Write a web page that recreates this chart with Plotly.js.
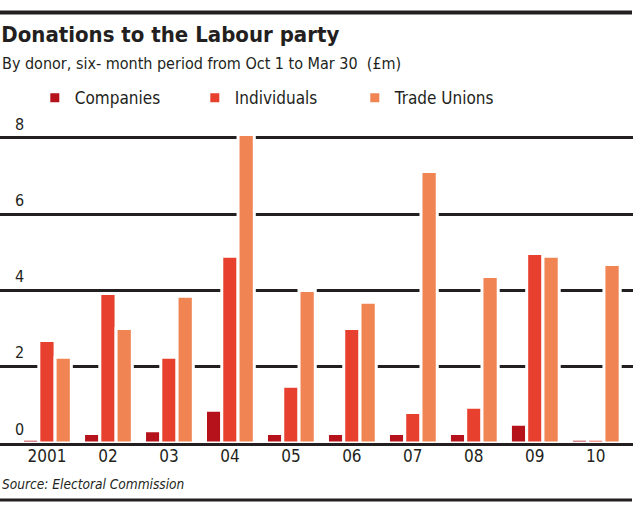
<!DOCTYPE html>
<html>
<head>
<meta charset="utf-8">
<script src="https://cdn.plot.ly/plotly-3.0.1.min.js"></script>
<style>html,body{margin:0;padding:0;background:#fff;}#chart{width:640px;height:512px;}</style>
</head>
<body>
<div id="chart"></div>
<script>
const categories = ['2001','02','03','04','05','06','07','08','09','10'];
const companies = [0.1,0.25,0.32,0.86,0.25,0.25,0.25,0.25,0.49,0.1];
const individuals = [2.69,3.92,2.25,4.9,1.49,3.0,0.8,0.94,4.97,0.1];
const tradeUnions = [2.25,3.0,3.85,8.09,4.0,3.69,7.12,4.37,4.9,4.68];
const yTicks = [0,2,4,6,8];

const FONT = '"DejaVu Sans Condensed", "Liberation Sans Narrow", sans-serif';
const INK = '#231f20';
function f(size, extra) { return Object.assign({family: FONT, size: size, color: INK}, extra || {}); }

function barTrace(name, values, color) {
  return {
    type: 'bar', name: name, x: categories, y: values,
    marker: {color: color, line: {color: '#ffffff', width: 3}},
    hoverinfo: 'skip'
  };
}

const data = [
  barTrace('Companies', companies, '#b5121b'),
  barTrace('Individuals', individuals, '#e8402f'),
  barTrace('Trade Unions', tradeUnions, '#f08453')
];

const layout = {
  width: 640, height: 512,
  margin: {l: 0, r: 7, t: 132, b: 69, pad: 0},
  paper_bgcolor: '#ffffff', plot_bgcolor: '#ffffff',
  font: f(15),
  barmode: 'group', bargap: 0.2, bargroupgap: 0,
  title: {
    text: 'Donations to the Labour party',
    font: f(22, {weight: 'bold'}),
    x: 0.002, xanchor: 'left', xref: 'container',
    y: 1 - 34/512, yanchor: 'middle', yref: 'container'
  },
  showlegend: true,
  legend: {
    orientation: 'h', x: 0.055, xanchor: 'left', y: 1.109, yanchor: 'middle',
    font: f(17),
    bgcolor: 'rgba(0,0,0,0)', entrywidth: 115, traceorder: 'normal'
  },
  xaxis: {
    type: 'category', range: [-0.77, 9.61],
    showline: true, linecolor: INK, linewidth: 3,
    ticks: '', showgrid: false, zeroline: false,
    ticklabelstandoff: -4,
    tickfont: f(17),
    fixedrange: true
  },
  yaxis: {
    range: [0, 8.157], tickvals: yTicks, ticktext: yTicks.map(String),
    showgrid: true, gridcolor: INK, gridwidth: 3,
    zeroline: false, showline: false, ticks: '',
    ticklabelposition: 'inside', ticklabelstandoff: 12, ticklabelshift: -14,
    ticklabeloverflow: 'allow',
    tickfont: f(16),
    fixedrange: true
  },
  annotations: [
    {
      text: 'By donor, six- month period from Oct 1 to Mar 30  (£m)',
      xref: 'paper', yref: 'paper', x: 0, y: (443-63.5)/311,
      xanchor: 'left', yanchor: 'middle', showarrow: false,
      font: f(16)
    },
    {
      text: '<i>Source: Electoral Commission</i>',
      xref: 'paper', yref: 'paper', x: 0, y: (443-484)/311,
      xanchor: 'left', yanchor: 'middle', showarrow: false,
      font: f(13.6)
    }
  ],
  shapes: [
    {type: 'line', xref: 'paper', yref: 'paper', x0: 0, x1: 632/633, y0: (443-12.5)/311, y1: (443-12.5)/311,
     line: {color: INK, width: 4}},
    {type: 'line', xref: 'paper', yref: 'paper', x0: 0, x1: 632/633, y0: (443-500)/311, y1: (443-500)/311,
     line: {color: INK, width: 3}}
  ]
};

Plotly.newPlot('chart', data, layout, {displayModeBar: false, staticPlot: true});
</script>
</body>
</html>
